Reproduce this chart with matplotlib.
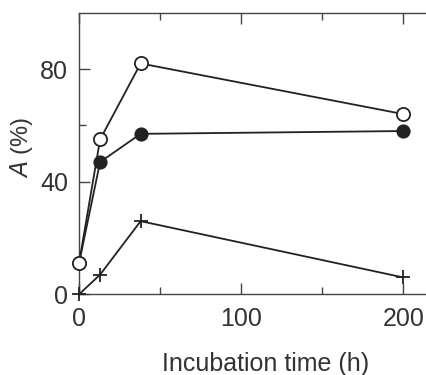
import matplotlib
matplotlib.use("Agg")
import matplotlib.pyplot as plt
from matplotlib.ticker import FixedLocator

# Incubation time (h) and activity A (%) for three conditions
time_h = [0, 13, 38, 200]
open_series = [11, 55, 82, 64]
filled_series = [11, 47, 57, 58]
cross_series = [0, 7, 26, 6]

x_ticks = [0, 100, 200]
x_minor = [50, 150]
y_ticks = [0, 40, 80]
y_minor = [60]

plt.rcParams['font.family'] = ['Liberation Sans', 'DejaVu Sans']

fig = plt.figure(figsize=(4.27, 3.75), dpi=100)
ax = fig.add_axes([0.185, 0.215, 0.815, 0.751])

ink = '#222222'
txt = '#333333'
ax.plot(time_h, cross_series, color=ink, lw=1.3, marker='+', ms=10, mew=1.3,
        clip_on=False, zorder=3)
ax.plot(time_h, filled_series, color=ink, lw=1.3, marker='o', ms=9,
        mfc=ink, mec=ink, mew=1.2, clip_on=False, zorder=4)
ax.plot(time_h, open_series, color=ink, lw=1.3, marker='o', ms=9.5,
        mfc='white', mec=ink, mew=1.3, clip_on=False, zorder=5)

ax.set_xlim(0, 214.5)
ax.set_ylim(0, 100)
ax.xaxis.set_major_locator(FixedLocator(x_ticks))
ax.xaxis.set_minor_locator(FixedLocator(x_minor))
ax.yaxis.set_major_locator(FixedLocator(y_ticks))
ax.yaxis.set_minor_locator(FixedLocator(y_minor))

ax.spines['right'].set_visible(False)
for s in ('left', 'bottom', 'top'):
    ax.spines[s].set_color('#444444')
    ax.spines[s].set_linewidth(1.0)

ax.tick_params(axis='both', which='both', direction='in', color='#444444',
               labelsize=18, labelcolor=txt)
ax.tick_params(axis='x', which='both', top=True, pad=9)
ax.tick_params(axis='y', which='both', right=False, pad=8)
ax.tick_params(which='major', length=8, width=1.0)
ax.tick_params(which='minor', length=5, width=1.0)

ax.set_xlabel('Incubation time (h)', fontsize=18, color=txt)
ax.set_ylabel(r'$\mathit{A}$ (%)', fontsize=17, color=txt)
ax.xaxis.set_label_coords(0.537, -0.205)
ax.yaxis.set_label_coords(-0.125, 0.523)

fig.savefig('out.png', dpi=100)
